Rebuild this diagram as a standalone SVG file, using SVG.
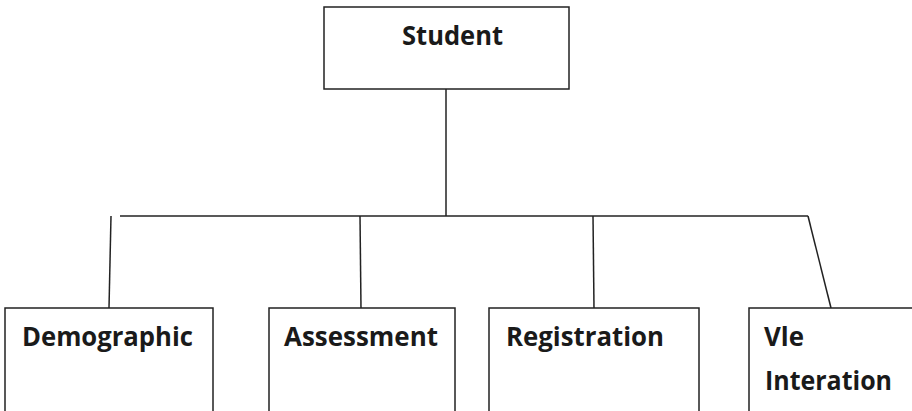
<svg xmlns="http://www.w3.org/2000/svg" width="912" height="411" viewBox="0 0 912 411">
  <style>
    .box { fill: #ffffff; stroke: #222222; stroke-width: 1.5; }
    .wire { fill: none; stroke: #222222; stroke-width: 1.5; }
    .label { font-family: "Open Sans", "Liberation Sans", sans-serif; font-weight: bold; font-size: 27px; fill: #1a1a1a; }
  </style>
  <rect width="912" height="411" fill="#ffffff"/>

  <!-- connectors -->
  <g id="connectors">
    <line class="wire" x1="446" y1="89" x2="446" y2="216"/>
    <line class="wire" x1="120" y1="216" x2="808" y2="216"/>
    <line class="wire" x1="111" y1="216" x2="109" y2="308"/>
    <line class="wire" x1="360" y1="216" x2="361" y2="308"/>
    <line class="wire" x1="593" y1="216" x2="594" y2="308"/>
    <line class="wire" x1="808" y1="216" x2="831" y2="308"/>
  </g>

  <g id="student">
    <rect class="box" x="324" y="7" width="245" height="82"/>
    <text class="label" x="402" y="45" textLength="101" lengthAdjust="spacingAndGlyphs">Student</text>
  </g>

  <g id="demographic">
    <rect class="box" x="5" y="308" width="208" height="110"/>
    <text class="label" x="22" y="346" textLength="171" lengthAdjust="spacingAndGlyphs">Demographic</text>
  </g>

  <g id="assessment">
    <rect class="box" x="269" y="308" width="186" height="110"/>
    <text class="label" x="284" y="346" textLength="154" lengthAdjust="spacingAndGlyphs">Assessment</text>
  </g>

  <g id="registration">
    <rect class="box" x="489" y="308" width="210" height="110"/>
    <text class="label" x="506" y="346" textLength="158" lengthAdjust="spacingAndGlyphs">Registration</text>
  </g>

  <g id="vle-interation">
    <rect class="box" x="749" y="308" width="180" height="110"/>
    <text class="label" x="764" y="346" textLength="40" lengthAdjust="spacingAndGlyphs">Vle</text>
    <text class="label" x="765" y="390" textLength="127" lengthAdjust="spacingAndGlyphs">Interation</text>
  </g>
</svg>
